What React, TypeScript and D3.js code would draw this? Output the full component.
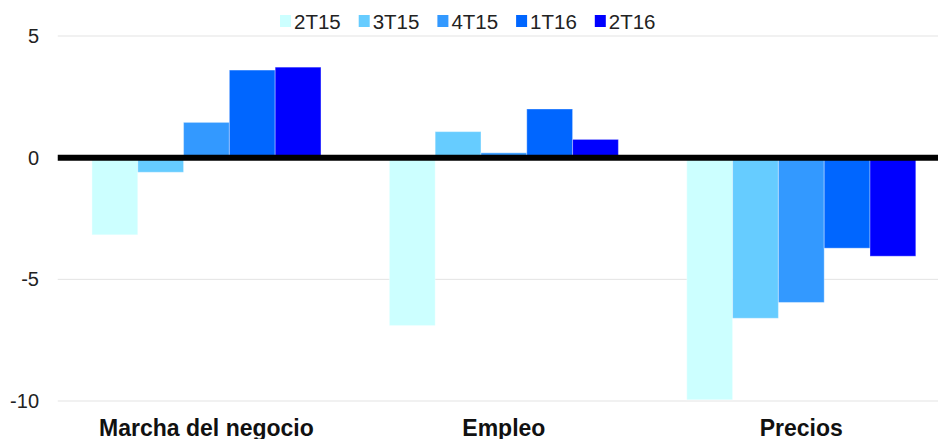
import * as d3 from 'd3';
import { useEffect, useRef } from 'react';

const categories = ['Marcha del negocio', 'Empleo', 'Precios'];
const seriesNames = ['2T15', '3T15', '4T15', '1T16', '2T16'];
const colors = ['#CCFFFF', '#66CCFF', '#3399FF', '#0066FF', '#0000FF'];
const values2T15 = [-3.17, -6.9, -9.95];
const values3T15 = [-0.6, 1.07, -6.6];
const values4T15 = [1.45, 0.2, -5.95];
const values1T16 = [3.6, 2.0, -3.72];
const values2T16 = [3.72, 0.75, -4.05];
const yTicks = [5, 0, -5, -10];

const W = 938,
    H = 439;

export default function App() {
    const svgRef = useRef<SVGSVGElement>(null);
    useEffect(() => {
        if (!svgRef.current) return;
        const svg = d3.select(svgRef.current);
        svg.selectAll('*').remove();

        const allSeries = [values2T15, values3T15, values4T15, values1T16, values2T16];
        const margin = { left: 57.75, right: -12 };

        const x0 = d3
            .scaleBand()
            .domain(categories)
            .range([margin.left, W - margin.right])
            .paddingInner(0.23)
            .paddingOuter(0.115);
        const x1 = d3.scaleBand().domain(seriesNames).range([0, x0.bandwidth()]);
        const y = d3.scaleLinear().domain([5, -10]).range([36, 401]);

        // gridlines
        svg.append('g')
            .selectAll('line')
            .data(yTicks)
            .join('line')
            .attr('x1', margin.left)
            .attr('x2', W)
            .attr('y1', (d) => y(d))
            .attr('y2', (d) => y(d))
            .attr('stroke', '#e3e3e3')
            .attr('stroke-width', 1);

        svg.append('g')
            .selectAll('text')
            .data(yTicks)
            .join('text')
            .attr('x', 39)
            .attr('y', (d) => y(d))
            .attr('dy', '0.35em')
            .attr('text-anchor', 'end')
            .attr('font-family', 'Liberation Sans, Arial, sans-serif')
            .attr('font-size', 20)
            .attr('fill', '#222')
            .text((d) => d);

        // bars
        const groups = svg
            .append('g')
            .selectAll('g')
            .data(categories)
            .join('g')
            .attr('transform', (d) => `translate(${x0(d)},0)`);
        groups
            .selectAll('rect')
            .data((_, ci) => allSeries.map((s, si) => ({ key: seriesNames[si], v: s[ci], c: colors[si] })))
            .join('rect')
            .attr('x', (d) => x1(d.key)!)
            .attr('width', x1.bandwidth())
            .attr('y', (d) => y(Math.max(0, d.v)))
            .attr('height', (d) => Math.abs(y(d.v) - y(0)))
            .attr('fill', (d) => d.c)
            .attr('stroke', 'rgba(255,255,255,0.35)')
            .attr('stroke-width', 1);

        // zero line
        svg.append('line')
            .attr('x1', margin.left)
            .attr('x2', W)
            .attr('y1', y(0))
            .attr('y2', y(0))
            .attr('stroke', '#000')
            .attr('stroke-width', 6);

        // category labels
        svg.append('g')
            .selectAll('text')
            .data(categories)
            .join('text')
            .attr('x', (d) => x0(d)! + x0.bandwidth() / 2)
            .attr('y', 436)
            .attr('text-anchor', 'middle')
            .attr('font-family', 'Liberation Sans, Arial, sans-serif')
            .attr('font-weight', 'bold')
            .attr('font-size', 23)
            .attr('fill', '#111')
            .text((d) => d);

        // legend
        const legend = svg
            .append('g')
            .selectAll('g')
            .data(seriesNames)
            .join('g')
            .attr('transform', (_, i) => `translate(${280 + i * 78.7},0)`);
        legend
            .append('rect')
            .attr('x', 0)
            .attr('y', 15)
            .attr('width', 11)
            .attr('height', 12)
            .attr('fill', (_, i) => colors[i]);
        legend
            .append('text')
            .attr('x', 14)
            .attr('y', 29)
            .attr('font-family', 'Liberation Sans, Arial, sans-serif')
            .attr('font-size', 20.5)
            .attr('fill', '#222')
            .text((d) => d);
    });
    return (
        <svg
            ref={svgRef}
            width={W}
            height={H}
            style={{ position: 'absolute', left: 0, top: 0, background: '#fff' }}
        />
    );
}
